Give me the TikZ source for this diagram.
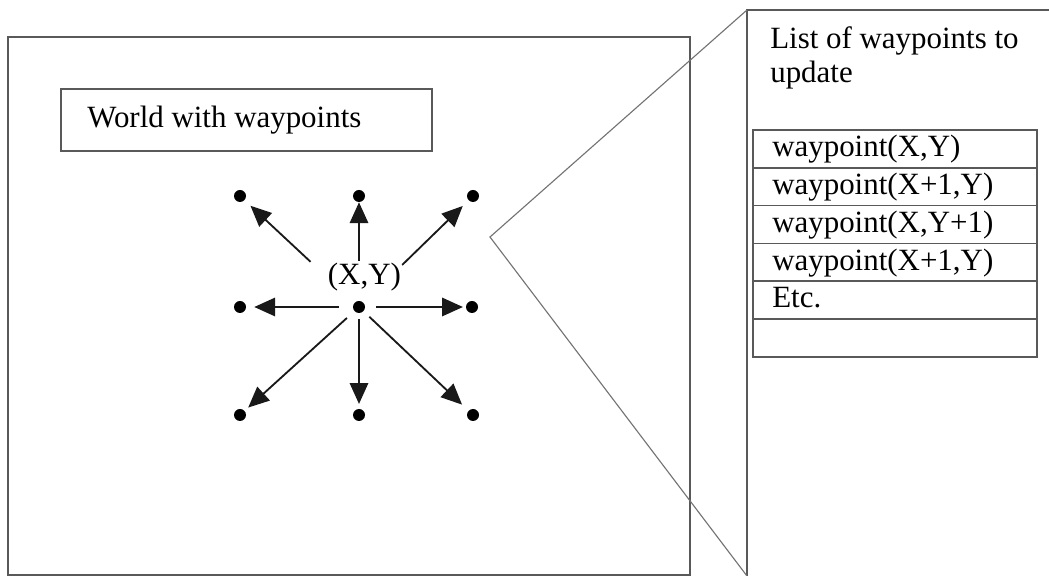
\documentclass[tikz,border=0pt]{standalone}
\usepackage{fontspec}
\setmainfont{Liberation Serif}
\usepackage{tikz}
\usetikzlibrary{arrows.meta}
\usetikzlibrary{positioning}

\tikzset{
  frame/.style={line width=1.1pt, draw=black!65},
  zoomline/.style={line width=0.8pt, draw=black!55},
  dot/.style={circle, fill=black, inner sep=0pt, minimum size=0.3cm},
  arr/.style={line width=1.3pt, draw=black!90, -{Triangle[length=0.52cm,width=0.46cm]}},
  txt/.style={font=\fontsize{22}{23}\selectfont, inner sep=0pt, anchor=base west},
}

\begin{document}
\begin{tikzpicture}
  \useasboundingbox (0,0) rectangle (26.225,14.4);
  % the world and its title
  \draw[frame] (0.2,0.025) rectangle (17.25,13.475);
  \draw[frame] (1.525,10.625) rectangle (10.8,12.175);
  \node[txt] (title) at (2.175,11.2) {World with waypoints};

  % side panel, opened from the world
  \coordinate (apex) at (12.25,8.475);
  \coordinate (ptop) at (18.675,14.15);
  \coordinate (pbot) at (18.675,0);
  \draw[frame] (26.5,14.15) -- (ptop) -- (18.675,-0.1);
  \draw[zoomline] (ptop) -- (apex) -- (pbot);
  \node[txt] (head1) at (19.25,13.175) {List of waypoints to};
  \node[txt] (head2) at (19.25,12.325) {update};

  % list rows
  \foreach \i/\t in {0/{waypoint(X,Y)},1/{waypoint(X+1,Y)},2/{waypoint(X,Y+1)},3/{waypoint(X+1,Y)},4/{Etc.},5/{}} {
    \draw[frame] (18.825,{11.15-\i*0.945}) rectangle (25.925,{11.15-(\i+1)*0.945});
    \node[txt] (row\i) at (19.3,{11.15-(\i+1)*0.945+0.275}) {\t};
  }

  % waypoint (X,Y) and its eight neighbours
  \node[dot] (wp) at (8.975,6.725) {};
  \node[txt, anchor=base] (wplabel) at (9.11,7.275) {(X,Y)};
  \foreach \n/\x/\y/\s/\e in {nw/6.0/9.5/1.5/0.2, n/8.975/9.5/1.0/0.0,
      ne/11.825/9.5/1.35/0.2, w/6.0/6.725/0.35/0.2, e/11.8/6.725/0.27/0.07,
      sw/6.0/4.025/0.25/0.12, s/8.975/4.025/0.15/0.12, se/11.825/4.025/0.2/0.22} {
    \node[dot] (wp-\n) at (\x,\y) {};
    \draw[arr, shorten <=\s cm, shorten >=\e cm] (wp) -- (wp-\n);
  }
\end{tikzpicture}
\end{document}
